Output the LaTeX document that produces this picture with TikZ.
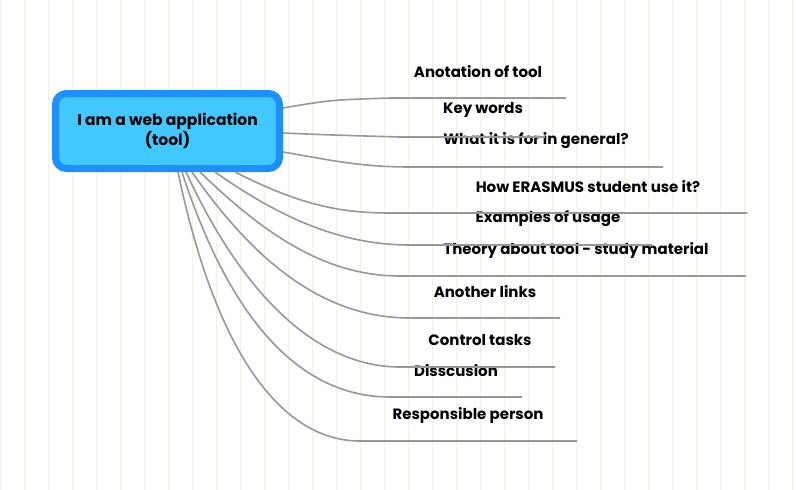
\documentclass[tikz,border=0pt]{standalone}
\usepackage{fontspec}
\setmainfont{Poppins}
\usetikzlibrary{calc}
\definecolor{colorHubFill}{HTML}{40C8FF}
\definecolor{colorHubBorder}{HTML}{1E8FFF}
\definecolor{colorBranch}{HTML}{989894}
\definecolor{colorGrid}{HTML}{EEF3E2}
\tikzset{
  hub/.style={draw=colorHubBorder, line width=7pt, fill=colorHubFill, rounded corners=11pt,
    minimum width=224pt, minimum height=75pt, align=center, font=\fontsize{15.5}{20}\selectfont\bfseries},
  topic/.style={font=\fontsize{15}{18}\selectfont\bfseries, inner sep=0pt},
  branch/.style={draw=colorBranch, line width=1.6pt}
}
\begin{document}
\begin{tikzpicture}[x=1pt, y=-1pt]
\useasboundingbox (0,0) rectangle (796,490);
\fill[white] (0,0) rectangle (796,490);
\draw[colorGrid, line width=0.8pt, step=24] (-21,-18) grid (810,500);
\node[hub] (hub) at (167.5,131) {I am a web application\\(tool)};
% topics
\node[topic] (t1) at (478,72) {Anotation of tool};
\node[topic] (t2) at (483,110) {Key words};
\node[topic] (t3) at (536,141) {What it is for in general?};
\node[topic] (t4) at (588,187) {How ERASMUS student use it?};
\node[topic] (t5) at (548,219) {Examples of usage};
\node[topic] (t6) at (576,250) {Theory about tool - study material};
\node[topic] (t7) at (485,292) {Another links};
\node[topic] (t8) at (480,340) {Control tasks};
\node[topic] (t9) at (456,371) {Disscusion};
\node[topic] (t10) at (468,415) {Responsible person};
% underline ends
\coordinate (e1) at (566,98);  \coordinate (e2) at (545,137);
\coordinate (e3) at (663,167); \coordinate (e4) at (747,213);
\coordinate (e5) at (652,245); \coordinate (e6) at (746,276);
\coordinate (e7) at (560,318); \coordinate (e8) at (555,367);
\coordinate (e9) at (522,397); \coordinate (e10) at (577,441);
% branches
\draw[branch] ($(hub.east)+(0,-23)$) .. controls (330,100) .. (390,98) -- (e1);
\draw[branch] ($(hub.east)+(0,2)$) .. controls (330,135) .. (400,137) -- (e2);
\draw[branch] ($(hub.east)+(0,21)$) .. controls (330,160) and (360,167) .. (410,167) -- (e3);
\draw[branch] (235,172) .. controls (300,205) and (340,213) .. (390,213) -- (e4);
\draw[branch] (215,172) .. controls (290,225) and (350,245) .. (410,245) -- (e5);
\draw[branch] (200,172) .. controls (270,240) and (330,276) .. (400,276) -- (e6);
\draw[branch] (192,172) .. controls (260,270) and (330,318) .. (410,318) -- (e7);
\draw[branch] (186,172) .. controls (245,300) and (320,367) .. (400,367) -- (e8);
\draw[branch] (182,172) .. controls (230,320) and (300,397) .. (390,397) -- (e9);
\draw[branch] (178,172) .. controls (215,350) and (280,441) .. (360,441) -- (e10);
\end{tikzpicture}
\end{document}
